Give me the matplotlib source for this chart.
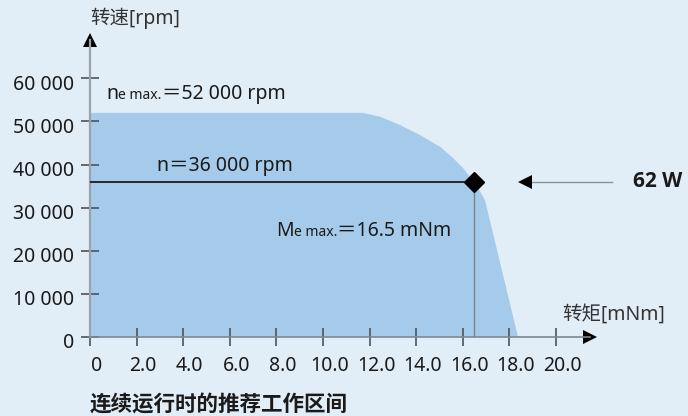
import matplotlib
matplotlib.use("Agg")
import matplotlib.pyplot as plt
import matplotlib.transforms as mtransforms

plt.rcParams['font.family'] = ['Noto Sans', 'Noto Sans CJK SC', 'DejaVu Sans']

# ----------------------------
# data
# ----------------------------
torque_ticks = [0, 2, 4, 6, 8, 10, 12, 14, 16, 18, 20]
torque_labels = ['0', '2.0', '4.0', '6.0', '8.0', '10.0', '12.0', '14.0', '16.0', '18.0', '20.0']
speed_ticks = [0, 10000, 20000, 30000, 40000, 50000, 60000]
speed_labels = ['0', '10 000', '20 000', '30 000', '40 000', '50 000', '60 000']

# outline of the recommended operating range (torque mNm, speed rpm)
range_torque = [0, 0, 11.72, 12.45, 13.30, 14.16, 15.02, 15.58, 16.01, 16.31, 16.5,
                16.78, 16.95, 18.37]
range_speed = [0, 52000, 52000, 51110, 49190, 46870, 44150, 41530, 39210, 37120, 36000,
               33410, 31790, 0]

n_max = 52000      # rpm
n_rated = 36000    # rpm
m_rated = 16.5     # mNm
power = 62         # W

bg = '#e1edf7'
fill = '#a6cbea'

W, H = 688, 416
px_x = 23.3          # pixels per mNm
px_y = 43.1 / 10000  # pixels per rpm

fig = plt.figure(figsize=(W / 100, H / 100), dpi=100, facecolor=bg)
ax = fig.add_axes([90 / W, 79 / H, 500 / W, 297 / H])
ax.set_facecolor('none')
ax.set_xlim(0, 500 / px_x)
ax.set_ylim(0, 297 / px_y)

# axes look
for s in ['top', 'right']:
    ax.spines[s].set_visible(False)
ax.spines['left'].set_color('#9aa3ad')
ax.spines['left'].set_linewidth(1.6)
ax.spines['bottom'].set_color('#7f8890')
ax.spines['bottom'].set_linewidth(1.2)
ax.plot(1, 0, '>', color='black', ms=10, mew=0, transform=ax.transAxes, clip_on=False)
ax.plot(0, 1, '^', color='black', ms=10, mew=0, transform=ax.transAxes, clip_on=False)

ax.set_xticks(torque_ticks)
ax.set_xticklabels(torque_labels)
ax.set_yticks(speed_ticks)
ax.set_yticklabels(speed_labels)
ax.tick_params(axis='both', direction='inout', length=13, width=1.2,
               color='#4d535a', labelsize=14, labelcolor='#1a1a1a', pad=5)
ax.tick_params(axis='x', pad=7)

dx = mtransforms.ScaledTranslation(0.065, 0, fig.dpi_scale_trans)
for lab in ax.get_xticklabels():
    lab.set_transform(lab.get_transform() + dx)
dy = mtransforms.ScaledTranslation(0, -0.04, fig.dpi_scale_trans)
for lab in ax.get_yticklabels():
    lab.set_transform(lab.get_transform() + dy)

# operating range
ax.fill(range_torque, range_speed, color=fill, lw=0, zorder=1)
ax.plot([0, m_rated], [n_rated, n_rated], color='#1a1a1a', lw=1.3, zorder=3)
ax.plot([m_rated, m_rated], [0, n_rated], color='#7a8088', lw=1.0, zorder=3)
ax.plot(m_rated, n_rated, 'D', color='black', ms=10, zorder=4, clip_on=False)

# power arrow
ax.plot([18.6, 22.4], [n_rated, n_rated], color='#8a929a', lw=1.0, clip_on=False)
ax.plot(18.65, n_rated, '<', color='black', ms=10, mew=0, clip_on=False)
ax.text(23.3, n_rated, f'{power} W', fontsize=15, fontweight='bold',
        family=['Open Sans', 'DejaVu Sans'], ha='left', va='center', color='#1a1a1a')

# labels
ax.text(0, 74000, '转速[rpm]', fontsize=14, ha='left', va='center', color='#333333')
ax.text(20.26, 5100, '转矩[mNm]', fontsize=14, ha='left', va='center', color='#333333')

y_nmax = 55200
t1 = ax.text(0.69, y_nmax, 'n', fontsize=14, va='baseline', color='#1a1a1a')
t2 = ax.annotate('e max.', xy=(1, y_nmax), xycoords=(t1, 'data'), fontsize=10,
                 va='baseline', ha='left', color='#1a1a1a')
ax.annotate(f'＝{n_max // 1000} 000 rpm', xy=(1, y_nmax), xycoords=(t2, 'data'),
            fontsize=14, va='baseline', ha='left', color='#1a1a1a')

ax.text(5.79, 38500, f'n＝{n_rated // 1000} 000 rpm', fontsize=14, ha='center',
        va='baseline', color='#1a1a1a')

y_m = 23400
t4 = ax.text(7.98, y_m, 'M', fontsize=14, va='baseline', color='#1a1a1a')
t5 = ax.annotate('e max.', xy=(1, y_m), xycoords=(t4, 'data'), fontsize=10,
                 va='baseline', ha='left', color='#1a1a1a')
ax.annotate(f'＝{m_rated} mNm', xy=(1, y_m), xycoords=(t5, 'data'),
            fontsize=14, va='baseline', ha='left', color='#1a1a1a')

ax.text(0, -15900, '连续运行时的推荐工作区间', fontsize=15.5, fontweight='bold',
        ha='left', va='center', color='#1a1a1a')

fig.savefig('out.png', dpi=100, facecolor=bg)
